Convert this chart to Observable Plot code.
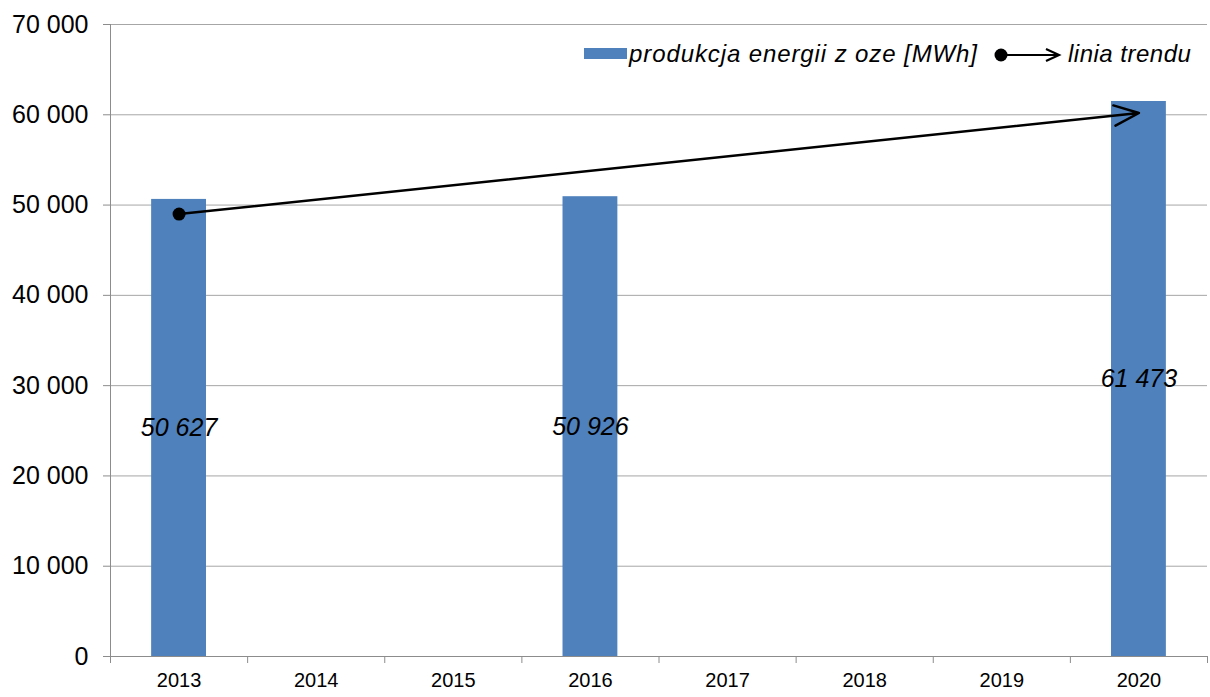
<!DOCTYPE html>
<html>
<head>
<meta charset="utf-8">
<script src="https://cdn.jsdelivr.net/npm/d3@7"></script>
<script src="https://cdn.jsdelivr.net/npm/@observablehq/plot@0.6"></script>
<style>
  html, body { margin: 0; padding: 0; background: #fff; }
  #wrap { position: relative; width: 1210px; height: 697px; font-family: "Liberation Sans", Arial, sans-serif; }
  .lg { position: absolute; font-style: italic; font-size: 24px; color: #000; white-space: nowrap; line-height: 24px; }
  #sw { position: absolute; left: 584px; top: 48px; width: 43px; height: 11px; background: #4f81bd; }
  #sym { position: absolute; left: 991px; top: 44px; }
</style>
</head>
<body>
<div id="wrap">
  <div id="chart"></div>
  <div id="sw"></div>
  <div class="lg" id="t1" style="left:629px; top:42px; letter-spacing:0.9px">produkcja energii z oze [MWh]</div>
  <svg id="sym" width="72" height="22"><circle cx="10" cy="11" r="6.5" fill="#000"/><line x1="10" y1="11" x2="66" y2="11" stroke="#000" stroke-width="2.2"/><path d="M55,5 L68,11 L55,17" fill="none" stroke="#000" stroke-width="2.2"/></svg>
  <div class="lg" id="t2" style="left:1068px; top:42px; letter-spacing:0.5px">linia trendu</div>
</div>
<script>
const years = [2013, 2014, 2015, 2016, 2017, 2018, 2019, 2020];
const barYears = [2013, 2016, 2020];
const barValues = [50627, 50926, 61473];
const trendStart = {year: 2013, value: 49000};
const trendEnd = {year: 2020, value: 60200};
const yTicks = [0, 10000, 20000, 30000, 40000, 50000, 60000, 70000];

const bars = barYears.map((y, i) => ({year: y, value: barValues[i]}));
const boundaries = years.concat([years[years.length - 1] + 1]).map(y => y - 0.5);
const fmt = v => d3.format(",")(v).replace(/,/g, " ");
const bw = 0.2;

const chart = Plot.plot({
  width: 1210,
  height: 697,
  marginLeft: 110,
  marginRight: 3,
  marginTop: 24,
  marginBottom: 41,
  style: {fontFamily: "'Liberation Sans', Arial, sans-serif", background: "#fff", color: "#000"},
  x: {type: "linear", domain: [boundaries[0], boundaries[boundaries.length - 1]]},
  y: {domain: [0, 70000]},
  marks: [
    Plot.ruleY(yTicks, {stroke: "#a6a6a6", strokeWidth: 1}),
    Plot.ruleX([boundaries[0]], {stroke: "#8c8c8c", strokeWidth: 1}),
    Plot.axisY({ticks: yTicks, tickSize: 7, tickPadding: 15, tickFormat: fmt, fontSize: 25, stroke: "#8c8c8c", fill: "#000", label: null}),
    Plot.axisX({ticks: boundaries, tickSize: 7, tickFormat: () => "", stroke: "#8c8c8c", label: null}),
    Plot.axisX({ticks: years, tickSize: 0, tickPadding: 16, tickFormat: d => String(d), fontSize: 20, fill: "#000", label: null}),
    Plot.rectY(bars, {x1: d => d.year - bw, x2: d => d.year + bw, y: "value", fill: "#4f81bd"}),
    Plot.ruleY([0], {stroke: "#8c8c8c", strokeWidth: 1}),
    Plot.text(bars, {x: "year", y: d => d.value / 2, text: d => fmt(d.value), fontSize: 25, fontStyle: "italic", fill: "#000"}),
    Plot.arrow([{}], {x1: () => trendStart.year, y1: () => trendStart.value, x2: () => trendEnd.year, y2: () => trendEnd.value, stroke: "#000", strokeWidth: 2.5, headLength: 16, headAngle: 45}),
    Plot.dot([trendStart], {x: "year", y: "value", r: 6.5, fill: "#000"})
  ]
});
document.getElementById("chart").appendChild(chart);
</script>
</body>
</html>
